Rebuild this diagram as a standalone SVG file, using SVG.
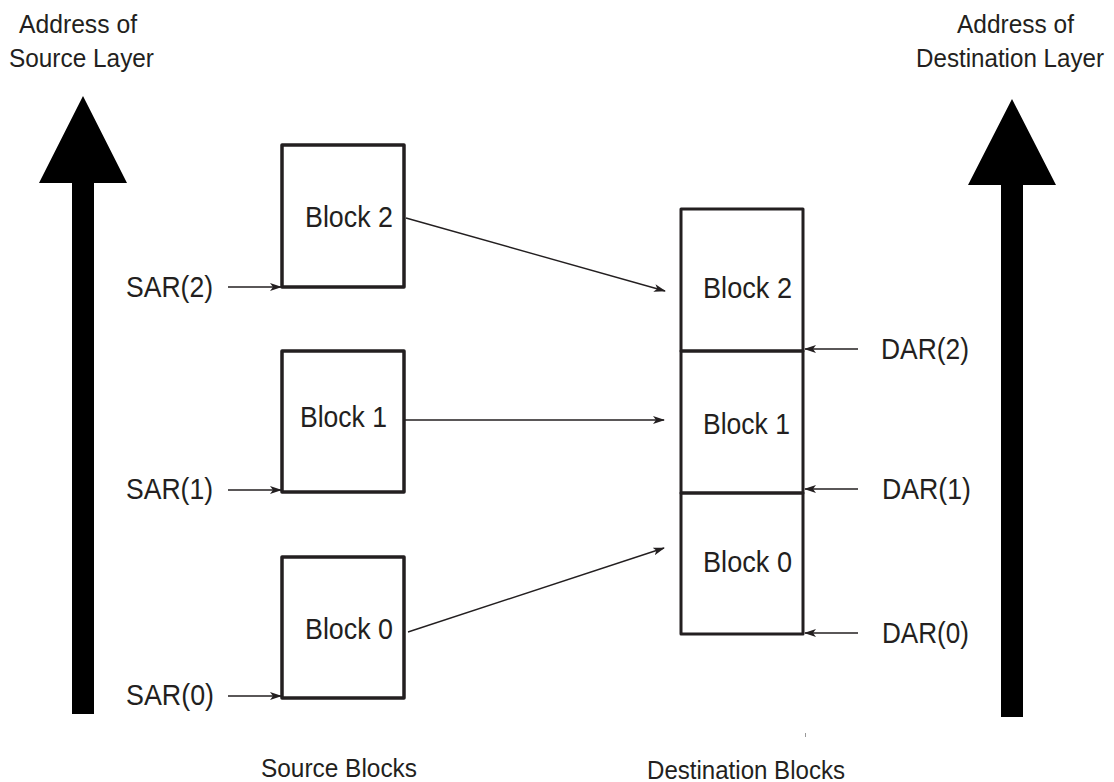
<svg xmlns="http://www.w3.org/2000/svg" width="1114" height="782" viewBox="0 0 1114 782">
<style>
text{font-family:"Liberation Sans",Arial,sans-serif;fill:#231f20}
.t{font-size:25px}
.b{font-size:30px}
.l{font-size:25px}
.blk{fill:#fff;stroke:#231f20;stroke-width:3.5;stroke-linejoin:round}
.dst{fill:none;stroke:#231f20;stroke-width:3;stroke-linejoin:round}
.c{fill:none;stroke:#231f20;stroke-width:1.4;marker-end:url(#ah)}
</style>
<defs>
<marker id="ah" viewBox="0 0 12 8" refX="11" refY="4" markerWidth="12" markerHeight="8" markerUnits="userSpaceOnUse" orient="auto">
<path d="M0,0 L12,4 L0,8 L3,4 Z" fill="#231f20"/>
</marker>
</defs>
<rect width="1114" height="782" fill="#fff"/>

<g id="source-axis">
<polygon points="83,96 127,183 94,183 94,714 72,714 72,183 39,183" fill="#000"/>
<text class="t" x="19" y="33" textLength="118" lengthAdjust="spacingAndGlyphs">Address of</text>
<text class="t" x="9" y="67" textLength="145" lengthAdjust="spacingAndGlyphs">Source Layer</text>
</g>

<g id="dest-axis">
<polygon points="1012,99 1056,185 1023,185 1023,717 1001,717 1001,185 968,185" fill="#000"/>
<text class="t" x="957" y="33" textLength="117" lengthAdjust="spacingAndGlyphs">Address of</text>
<text class="t" x="916" y="67" textLength="188" lengthAdjust="spacingAndGlyphs">Destination Layer</text>
</g>

<g id="src-block2">
<rect class="blk" x="282" y="145" width="122" height="142"/>
<text class="b" x="305" y="227" textLength="88" lengthAdjust="spacingAndGlyphs">Block 2</text>
</g>
<g id="src-block1">
<rect class="blk" x="282" y="351" width="122" height="141"/>
<text class="b" x="300" y="427" textLength="87" lengthAdjust="spacingAndGlyphs">Block 1</text>
</g>
<g id="src-block0">
<rect class="blk" x="282" y="557" width="122" height="141"/>
<text class="b" x="305" y="639" textLength="88" lengthAdjust="spacingAndGlyphs">Block 0</text>
</g>

<g id="dst-block2">
<rect class="dst" x="681" y="209" width="122" height="142"/>
<text class="b" x="703" y="298" textLength="89" lengthAdjust="spacingAndGlyphs">Block 2</text>
</g>
<g id="dst-block1">
<rect class="dst" x="681" y="351" width="122" height="142"/>
<text class="b" x="703" y="434" textLength="87" lengthAdjust="spacingAndGlyphs">Block 1</text>
</g>
<g id="dst-block0">
<rect class="dst" x="681" y="493" width="122" height="141"/>
<text class="b" x="703" y="572" textLength="89" lengthAdjust="spacingAndGlyphs">Block 0</text>
</g>

<g id="sar-labels">
<text class="b" x="126" y="297" textLength="87" lengthAdjust="spacingAndGlyphs">SAR(2)</text>
<text class="b" x="126" y="499" textLength="87" lengthAdjust="spacingAndGlyphs">SAR(1)</text>
<text class="b" x="126" y="705" textLength="88" lengthAdjust="spacingAndGlyphs">SAR(0)</text>
</g>
<g id="dar-labels">
<text class="b" x="881" y="359" textLength="88" lengthAdjust="spacingAndGlyphs">DAR(2)</text>
<text class="b" x="882" y="499" textLength="89" lengthAdjust="spacingAndGlyphs">DAR(1)</text>
<text class="b" x="882" y="643" textLength="87" lengthAdjust="spacingAndGlyphs">DAR(0)</text>
</g>

<g id="captions">
<text class="l" x="261" y="777" textLength="156" lengthAdjust="spacingAndGlyphs">Source Blocks</text>
<text class="l" x="647" y="779" textLength="198" lengthAdjust="spacingAndGlyphs">Destination Blocks</text>
</g>

<g id="connectors">
<line class="c" x1="406" y1="218" x2="665" y2="291"/>
<line class="c" x1="405" y1="420" x2="664" y2="420"/>
<line class="c" x1="408" y1="632" x2="664" y2="548"/>
<line class="c" x1="228" y1="287" x2="281" y2="287"/>
<line class="c" x1="228" y1="490" x2="281" y2="490"/>
<line class="c" x1="228" y1="696" x2="281" y2="696"/>
<line class="c" x1="858" y1="349" x2="805" y2="349"/>
<line class="c" x1="858" y1="489" x2="805" y2="489"/>
<line class="c" x1="858" y1="633" x2="805" y2="633"/>
</g>
<line x1="805.5" y1="733" x2="805.5" y2="737" stroke="#999" stroke-width="1"/>
</svg>
